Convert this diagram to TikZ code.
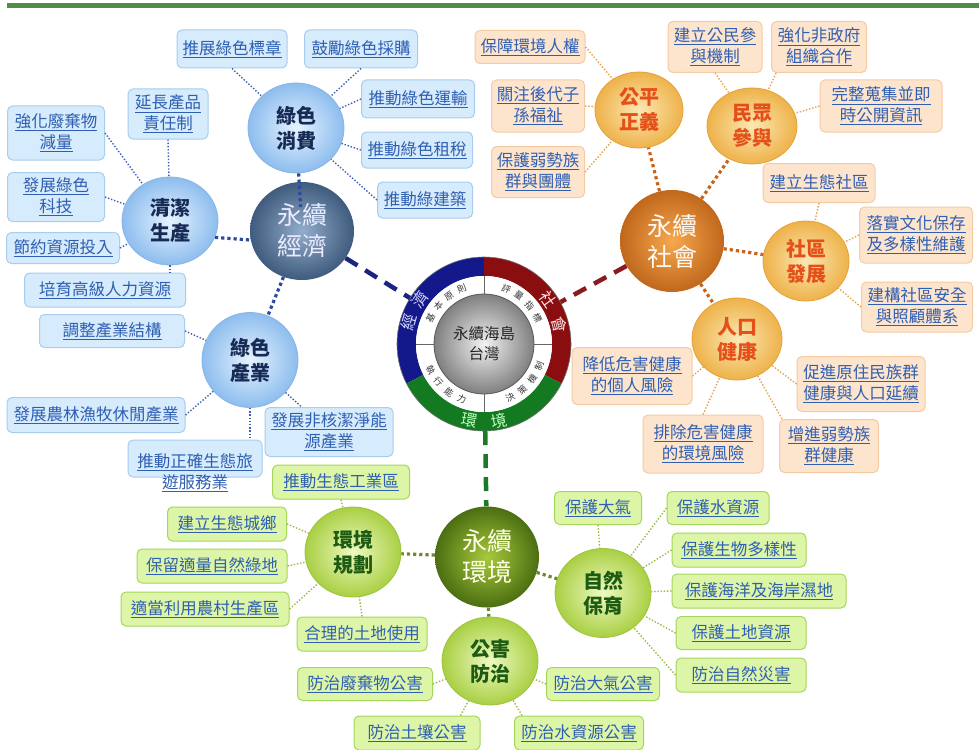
\documentclass[tikz,border=0pt]{standalone}
\usepackage{fontspec}
\setmainfont{Noto Sans CJK TC}
\usetikzlibrary{shapes.geometric}

% palette
\definecolor{topbar}{HTML}{4E8F45}
\definecolor{linkblue}{HTML}{2F5FB3}
\definecolor{bfill}{HTML}{D6EBFB}\definecolor{bdraw}{HTML}{A8CDEE}
\definecolor{ofill}{HTML}{FDE4CD}\definecolor{odraw}{HTML}{F6CBA2}
\definecolor{gfill}{HTML}{DDF5A6}\definecolor{gdraw}{HTML}{A6D65C}
\definecolor{bsubin}{HTML}{E6F3FE}\definecolor{bsubout}{HTML}{8DBDEE}\definecolor{bsubdraw}{HTML}{86B6E6}\definecolor{bsubtxt}{HTML}{172A55}
\definecolor{osubin}{HTML}{FBE8B4}\definecolor{osubout}{HTML}{EEB24A}\definecolor{osubdraw}{HTML}{E4A23A}\definecolor{osubtxt}{HTML}{E5501A}
\definecolor{gsubin}{HTML}{EEFAC0}\definecolor{gsubout}{HTML}{A9CF44}\definecolor{gsubdraw}{HTML}{9CC43C}\definecolor{gsubtxt}{HTML}{1D5A12}
\definecolor{ecoin}{HTML}{93ADCB}\definecolor{ecoout}{HTML}{3F5B7D}
\definecolor{socin}{HTML}{F7A84E}\definecolor{socout}{HTML}{C0671C}
\definecolor{envin}{HTML}{A8CA3C}\definecolor{envout}{HTML}{4B6E12}
\definecolor{bline}{HTML}{3D5FB5}\definecolor{bthick}{HTML}{2D4A9E}
\definecolor{oline}{HTML}{E3A24C}\definecolor{othick}{HTML}{C9641F}
\definecolor{gline}{HTML}{9DB848}\definecolor{gthick}{HTML}{6B8A2A}
\definecolor{rblue}{HTML}{13198A}\definecolor{rred}{HTML}{8A0E10}\definecolor{rgreen}{HTML}{137A22}
\definecolor{dblue}{HTML}{1A2580}\definecolor{dred}{HTML}{8B1A1E}\definecolor{dgreen}{HTML}{1B7A25}

\newcommand\fBox{\fontsize{16.5}{21}\selectfont}
\newcommand\fSub{\fontsize{20}{25}\selectfont\bfseries}
\newcommand\fMain{\fontsize{25}{31}\selectfont}
\newcommand\fCtr{\fontsize{15.5}{20}\selectfont}
\newcommand\fRing{\fontsize{16}{16}\selectfont}
\newcommand\fTiny{\fontsize{9}{9}\selectfont}
\newcommand\lk[1]{\underline{#1}}

\begin{document}
\begin{tikzpicture}[x=1pt,y=-1pt,
  sz/.style 2 args={minimum width=#1, minimum height=#2},
  box/.style={rectangle, rounded corners=5pt, line width=1pt, inner sep=0pt, align=center, text=linkblue, font=\fBox},
  bluebox/.style={box, draw=bdraw, fill=bfill},
  orgbox/.style={box, draw=odraw, fill=ofill},
  grnbox/.style={box, draw=gdraw, fill=gfill},
  sub/.style={ellipse, inner sep=0pt, align=center, font=\fSub, line width=0.8pt},
  bluesub/.style={sub, draw=bsubdraw, inner color=bsubin, outer color=bsubout, text=bsubtxt},
  orgsub/.style={sub, draw=osubdraw, inner color=osubin, outer color=osubout, text=osubtxt},
  grnsub/.style={sub, draw=gsubdraw, inner color=gsubin, outer color=gsubout, text=gsubtxt},
  mainc/.style={ellipse, inner sep=0pt, align=center, font=\fMain},
  bcon/.style={draw=bline, line width=1.4pt, dash pattern=on 1.4pt off 1.8pt},
  ocon/.style={draw=oline, line width=1.4pt, dash pattern=on 1.4pt off 1.8pt},
  gcon/.style={draw=gline, line width=1.4pt, dash pattern=on 1.4pt off 1.8pt},
  bmain/.style={draw=bthick, line width=3.2pt, dash pattern=on 3.2pt off 3pt},
  omain/.style={draw=othick, line width=3.2pt, dash pattern=on 3.2pt off 3pt},
  gmain/.style={draw=gthick, line width=3.2pt, dash pattern=on 3.2pt off 3pt},
  dashmain/.style={line width=4.5pt, dash pattern=on 14pt off 9pt},
  rtxt/.style={font=\fRing, inner sep=0pt},
  ttxt/.style={font=\fTiny, inner sep=0pt, text=black!80}
]
\useasboundingbox (0,0) rectangle (979,749);
\fill[white] (0,0) rectangle (979,749);
\fill[topbar] (7,3) rectangle (979,8);

% ---------- central ring ----------
\begin{scope}[shift={(484,344)}, y=1pt]
  \node[circle, minimum size=174, inner sep=0pt] (ring) at (0,0) {};
  \fill[rblue] (90:87) arc[start angle=90, end angle=207, radius=87] -- (207:68) arc[start angle=207, end angle=90, radius=68] -- cycle;
  \fill[rred] (-27:87) arc[start angle=-27, end angle=90, radius=87] -- (90:68) arc[start angle=90, end angle=-27, radius=68] -- cycle;
  \fill[rgreen] (207:87) arc[start angle=207, end angle=333, radius=87] -- (333:68) arc[start angle=333, end angle=207, radius=68] -- cycle;
  \fill[white] (0,0) circle (68);
  \draw[black!60, line width=0.8pt] (0:50) -- (0:68) (90:50) -- (90:68) (180:50) -- (180:68) (270:50) -- (270:68);
  \shade[inner color=white!95!black, outer color=black!50] (0,0) circle (50);
  \draw[black!65, line width=0.8pt] (0,0) circle (50);
  \draw[black!55, line width=0.6pt] (0,0) circle (87);
  \node[font=\fCtr, align=center, text=black!85] (core) at (0,0) {永續海島\\台灣};
  % outer band labels
  \node[rtxt, text=blue!15, rotate=74] at (164:78) {經};
  \node[rtxt, text=blue!15, rotate=55] at (145:78) {濟};
  \node[rtxt, text=red!10, rotate=-55] at (35:78) {社};
  \node[rtxt, text=red!10, rotate=-76] at (14:78) {會};
  \node[rtxt, text=green!25, rotate=-11] at (259:78) {環};
  \node[rtxt, text=green!25, rotate=11] at (281:78) {境};
  % inner band labels
  \node[ttxt, rotate=64] at (154:59.5) {基};
  \node[ttxt, rotate=50] at (140:59.5) {本};
  \node[ttxt, rotate=36] at (126:59.5) {原};
  \node[ttxt, rotate=22] at (112:59.5) {則};
  \node[ttxt, rotate=-22] at (68:59.5) {評};
  \node[ttxt, rotate=-36] at (54:59.5) {量};
  \node[ttxt, rotate=-50] at (40:59.5) {指};
  \node[ttxt, rotate=-64] at (26:59.5) {標};
  \node[ttxt, rotate=26] at (-64:59.5) {決};
  \node[ttxt, rotate=40] at (-50:59.5) {策};
  \node[ttxt, rotate=54] at (-36:59.5) {機};
  \node[ttxt, rotate=68] at (-22:59.5) {制};
  \node[ttxt, rotate=-64] at (206:59.5) {執};
  \node[ttxt, rotate=-50] at (220:59.5) {行};
  \node[ttxt, rotate=-36] at (234:59.5) {能};
  \node[ttxt, rotate=-22] at (248:59.5) {力};
\end{scope}

% ---------- main circles ----------
\node[mainc, sz={104}{98}, inner color=ecoin, outer color=ecoout, text=white!92!blue] (eco) at (302,231) {永續\\經濟};
\node[mainc, sz={104}{102}, inner color=socin, outer color=socout, text=white!95!orange] (soc) at (672,241) {永續\\社會};
\node[mainc, sz={104}{101}, inner color=envin, outer color=envout, text=white!90!yellow] (env) at (487,557) {永續\\環境};

% ---------- sub circles ----------
\node[bluesub, sz={96}{90}] (gc) at (296,128) {綠色\\消費};
\node[bluesub, sz={96}{88}] (cp) at (170,221) {清潔\\生產};
\node[bluesub, sz={96}{95}] (gi) at (250,360) {綠色\\產業};
\node[orgsub, sz={88}{76}] (fj) at (639,110) {公平\\正義};
\node[orgsub, sz={90}{76}] (pp) at (752,126) {民眾\\參與};
\node[orgsub, sz={86}{80}] (cd) at (806,261) {社區\\發展};
\node[orgsub, sz={90}{82}] (ph) at (737,339) {人口\\健康};
\node[grnsub, sz={96}{90}] (ep) at (353,552) {環境\\規劃};
\node[grnsub, sz={96}{89}] (nc) at (603,593) {自然\\保育};
\node[grnsub, sz={96}{88}] (pc) at (490,661) {公害\\防治};

% ---------- economy boxes ----------
\node[bluebox, sz={110}{38}] (b1) at (232,49) {\lk{推展綠色標章}};
\node[bluebox, sz={113}{38}] (b2) at (361,49) {\lk{鼓勵綠色採購}};
\node[bluebox, sz={113}{38}] (b3) at (418,99) {\lk{推動綠色運輸}};
\node[bluebox, sz={111}{36}] (b4) at (417,150) {\lk{推動綠色租稅}};
\node[bluebox, sz={95}{36}] (b5) at (425,200) {\lk{推動綠建築}};
\node[bluebox, sz={80}{50}] (b6) at (168,114) {\lk{延長產品}\\\lk{責任制}};
\node[bluebox, sz={97}{54}] (b7) at (56,133) {\lk{強化廢棄物}\\\lk{減量}};
\node[bluebox, sz={97}{49}] (b8) at (56,197) {\lk{發展綠色}\\\lk{科技}};
\node[bluebox, sz={113}{31}] (b9) at (63,248) {\lk{節約資源投入}};
\node[bluebox, sz={161}{34}] (b10) at (105,290) {\lk{培育高級人力資源}};
\node[bluebox, sz={145}{33}] (b11) at (112,331) {\lk{調整產業結構}};
\node[bluebox, sz={178}{35}] (b12) at (96,415) {\lk{發展農林漁牧休閒產業}};
\node[bluebox, sz={134}{37}] (b13) at (195,458.5) {};
\node[box] (b13t) at (195,472.5) {\lk{推動正確生態旅}\\\lk{遊服務業}};
\node[bluebox, sz={128}{49}] (b14) at (329,432) {\lk{發展非核潔淨能}\\\lk{源產業}};

% ---------- society boxes ----------
\node[orgbox, sz={110}{33}] (o1) at (530,47) {\lk{保障環境人權}};
\node[orgbox, sz={93}{52}] (o2) at (538,106) {\lk{關注後代子}\\\lk{孫福祉}};
\node[orgbox, sz={93}{51}] (o3) at (538,172) {\lk{保護弱勢族}\\\lk{群與團體}};
\node[orgbox, sz={94}{51}] (o4) at (715,47) {\lk{建立公民參}\\\lk{與機制}};
\node[orgbox, sz={95}{51}] (o5) at (819,47) {\lk{強化非政府}\\\lk{組織合作}};
\node[orgbox, sz={122}{52}] (o6) at (881,106) {\lk{完整蒐集並即}\\\lk{時公開資訊}};
\node[orgbox, sz={112}{39}] (o7) at (819,183) {\lk{建立生態社區}};
\node[orgbox, sz={113}{56}] (o8) at (916,235) {\lk{落實文化保存}\\\lk{及多樣性維護}};
\node[orgbox, sz={111}{50}] (o9) at (917,307) {\lk{建構社區安全}\\\lk{與照顧體系}};
\node[orgbox, sz={120}{57}] (o10) at (632,376) {\lk{降低危害健康}\\\lk{的個人風險}};
\node[orgbox, sz={128}{55}] (o11) at (861,384) {\lk{促進原住民族群}\\\lk{健康與人口延續}};
\node[orgbox, sz={120}{58}] (o12) at (703,444) {\lk{排除危害健康}\\\lk{的環境風險}};
\node[orgbox, sz={99}{53}] (o13) at (829,446) {\lk{增進弱勢族}\\\lk{群健康}};

% ---------- environment boxes ----------
\node[grnbox, sz={137}{34}] (g1) at (341,482) {\lk{推動生態工業區}};
\node[grnbox, sz={119}{34}] (g2) at (227,524) {\lk{建立生態城鄉}};
\node[grnbox, sz={150}{34}] (g3) at (212,566) {\lk{保留適量自然綠地}};
\node[grnbox, sz={168}{34}] (g4) at (205,609) {\lk{適當利用農村生產區}};
\node[grnbox, sz={130}{34}] (g5) at (362,634) {\lk{合理的土地使用}};
\node[grnbox, sz={135}{33}] (g6) at (365,684) {\lk{防治廢棄物公害}};
\node[grnbox, sz={126}{34}] (g7) at (417,733) {\lk{防治土壤公害}};
\node[grnbox, sz={87}{33}] (g8) at (598,508) {\lk{保護大氣}};
\node[grnbox, sz={102}{33}] (g9) at (718,508) {\lk{保護水資源}};
\node[grnbox, sz={134}{34}] (g10) at (739,550) {\lk{保護生物多樣性}};
\node[grnbox, sz={174}{34}] (g11) at (759,591) {\lk{保護海洋及海岸濕地}};
\node[grnbox, sz={130}{33}] (g12) at (741,633) {\lk{保護土地資源}};
\node[grnbox, sz={130}{34}] (g13) at (741,675) {\lk{防治自然災害}};
\node[grnbox, sz={113}{33}] (g14) at (603,684) {\lk{防治大氣公害}};
\node[grnbox, sz={129}{34}] (g15) at (579,733) {\lk{防治水資源公害}};

% ---------- links to the core ring ----------
\draw[dashmain, dblue] (eco) -- (ring);
\draw[dashmain, dred] (soc) -- (ring);
\draw[dashmain, dgreen] (ring) -- (env);

% ---------- main to sub circles ----------
\draw[bmain] (gc) -- (eco.center) [shorten >=24pt];
\draw[bmain] (cp.-20) -- (eco.190);
\draw[bmain] (eco) -- (gi);
\draw[omain] (soc) -- (fj);
\draw[omain] (soc) -- (pp);
\draw[omain] (soc) -- (cd);
\draw[omain] (soc) -- (ph);
\draw[gmain] (env) -- (ep);
\draw[gmain] (env) -- (nc);
\draw[gmain] (env) -- (pc);

% ---------- sub circles to boxes ----------
\draw[bcon] (b1.south) -- (gc);
\draw[bcon] (b2.south) -- (gc);
\draw[bcon] (b3.west) -- (gc);
\draw[bcon] (b4.west) -- (gc);
\draw[bcon] (b5.west) -- (gc);
\draw[bcon] (b6.south) -- (cp);
\draw[bcon] (b7.east) -- (cp);
\draw[bcon] (b8.east) -- (cp);
\draw[bcon] (b9.east) -- (cp);
\draw[bcon] (cp) -- (cp |- b10.north);
\draw[bcon] (b11.east) -- (gi);
\draw[bcon] (b12.east) -- (gi);
\draw[bcon] (gi) -- (b13.north -| gi);
\draw[bcon] (gi) -- (b14);

\draw[ocon] (o1.east) -- (fj);
\draw[ocon] (o2.east) -- (fj);
\draw[ocon] (o3.east) -- (fj);
\draw[ocon] (o4.south) -- (pp);
\draw[ocon] ([xshift=5pt]o5.south west) -- (pp);
\draw[ocon] (o6.west) -- (pp);
\draw[ocon] (o7.south) -- (cd);
\draw[ocon] (o8.west) -- (cd);
\draw[ocon] (o9.west) -- (cd);
\draw[ocon] (o10.east) -- (ph);
\draw[ocon] (o11.west) -- (ph);
\draw[ocon] (o12.north) -- (ph);
\draw[ocon] ([xshift=3pt]o13.north west) -- (ph);

\draw[gcon] (g1.south) -- (ep);
\draw[gcon] (g2.east) -- (ep);
\draw[gcon] (g3.east) -- (ep);
\draw[gcon] (g4.east) -- (ep);
\draw[gcon] (g5.north) -- (ep);
\draw[gcon] (g6.east) -- (pc);
\draw[gcon] ([xshift=-20pt]g7.north east) -- (pc);
\draw[gcon] (g8.south) -- (nc);
\draw[gcon] (g9.west) -- (nc);
\draw[gcon] (g10.west) -- (nc);
\draw[gcon] (g11.west) -- (nc);
\draw[gcon] (g12.west) -- (nc);
\draw[gcon] (g13.west) -- (nc);
\draw[gcon] (g14.west) -- (pc);
\draw[gcon] ([xshift=8pt]g15.north west) -- (pc);
\end{tikzpicture}
\end{document}
